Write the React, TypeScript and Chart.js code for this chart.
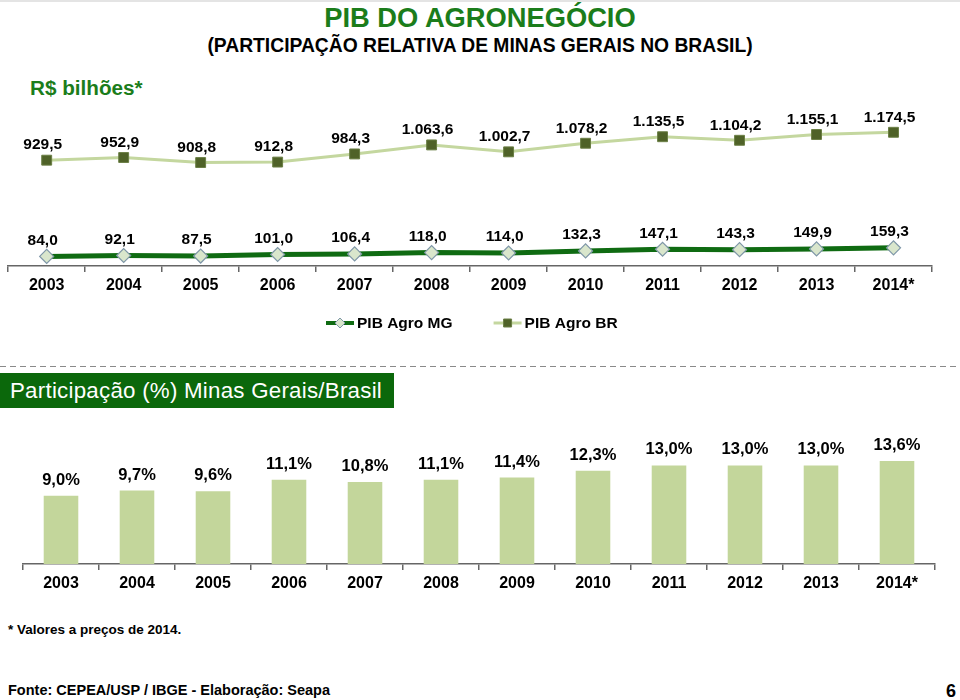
import React, { useEffect, useRef } from 'react';
import { Chart, registerables } from 'chart.js';

Chart.register(...registerables);

const FONT = "'Liberation Sans', Arial, Helvetica, sans-serif";

const years = ['2003', '2004', '2005', '2006', '2007', '2008', '2009', '2010', '2011', '2012', '2013', '2014*'];
const seriesNames = ['PIB Agro MG', 'PIB Agro BR'];
const pibAgroMG = [84.0, 92.1, 87.5, 101.0, 106.4, 118.0, 114.0, 132.3, 147.1, 143.3, 149.9, 159.3];
const pibAgroBR = [929.5, 952.9, 908.8, 912.8, 984.3, 1063.6, 1002.7, 1078.2, 1135.5, 1104.2, 1155.1, 1174.5];
const participacaoMG = [9.0, 9.7, 9.6, 11.1, 10.8, 11.1, 11.4, 12.3, 13.0, 13.0, 13.0, 13.6];

const AXIS_COLOR = '#666666';

function fmtBR(v: number): string {
  const [i, d] = v.toFixed(1).split('.');
  return i.replace(/\B(?=(\d{3})+(?!\d))/g, '.') + ',' + d;
}
function fmtPct(v: number): string {
  return v.toFixed(1).replace('.', ',') + '%';
}

function xScale() {
  return {
    offset: true,
    grid: {
      offset: true,
      drawOnChartArea: false,
      drawTicks: true,
      tickLength: 6,
      color: AXIS_COLOR,
      lineWidth: 1.5,
    },
    border: { display: true, color: AXIS_COLOR, width: 1.5 },
    ticks: {
      color: '#000',
      font: { family: FONT, size: 16, weight: 'bold' as const },
      padding: 4,
      maxRotation: 0,
      autoSkip: false,
    },
  };
}

function LineChart() {
  const ref = useRef<HTMLCanvasElement>(null);
  useEffect(() => {
    if (!ref.current) return;
    const labelPlugin = {
      id: 'lineLabels',
      afterDatasetsDraw(chart: any) {
        const ctx = chart.ctx;
        ctx.save();
        ctx.font = `bold 15.5px ${FONT}`;
        ctx.fillStyle = '#000';
        ctx.textAlign = 'center';
        ctx.textBaseline = 'middle';
        chart.data.datasets.forEach((ds: any, i: number) => {
          const meta = chart.getDatasetMeta(i);
          meta.data.forEach((pt: any, j: number) => {
            const off = i === 0 ? 16 : 15;
            ctx.fillText(fmtBR(ds.data[j]), pt.x - 4, pt.y - off);
          });
        });
        ctx.restore();
      },
    };
    const legendPlugin = {
      id: 'lineLegend',
      afterDraw(chart: any) {
        const ctx = chart.ctx;
        ctx.save();
        ctx.font = `bold 15.5px ${FONT}`;
        ctx.textBaseline = 'middle';
        ctx.textAlign = 'left';
        let x = 326;
        const y = 223;
        chart.data.datasets.forEach((ds: any, i: number) => {
          ctx.strokeStyle = ds.borderColor;
          ctx.lineWidth = i === 0 ? 4 : 3;
          ctx.beginPath();
          ctx.moveTo(x, y);
          ctx.lineTo(x + 28, y);
          ctx.stroke();
          const cx = x + 14;
          ctx.fillStyle = ds.pointBackgroundColor;
          ctx.strokeStyle = ds.pointBorderColor;
          ctx.lineWidth = 1;
          ctx.beginPath();
          if (ds.pointStyle === 'rectRot') {
            const r = 5;
            ctx.moveTo(cx, y - r);
            ctx.lineTo(cx + r, y);
            ctx.lineTo(cx, y + r);
            ctx.lineTo(cx - r, y);
            ctx.closePath();
          } else {
            ctx.rect(cx - 4, y - 4, 8, 8);
          }
          ctx.fill();
          ctx.stroke();
          ctx.fillStyle = '#000';
          ctx.fillText(ds.label, x + 31, y + 1);
          x += 31 + ctx.measureText(ds.label).width + 41;
        });
        ctx.restore();
      },
    };
    const chart = new Chart(ref.current, {
      type: 'line',
      data: {
        labels: years,
        datasets: [
          {
            label: seriesNames[0],
            data: pibAgroMG,
            borderColor: '#0f6b12',
            borderWidth: 5,
            pointStyle: 'rectRot',
            pointRadius: 7,
            pointBackgroundColor: '#d9e6cc',
            pointBorderColor: '#7f97a8',
            pointBorderWidth: 1.2,
            tension: 0,
            clip: false,
          } as any,
          {
            label: seriesNames[1],
            data: pibAgroBR,
            borderColor: '#c4d79f',
            borderWidth: 3,
            pointStyle: 'rect',
            pointRadius: 7,
            pointBackgroundColor: '#4f6228',
            pointBorderColor: '#6b7f45',
            pointBorderWidth: 1,
            tension: 0,
            clip: false,
          } as any,
        ],
      },
      options: {
        animation: false,
        responsive: false,
        layout: { padding: { top: 18, left: 8, right: 28, bottom: 45.8 } },
        plugins: { legend: { display: false }, tooltip: { enabled: false } },
        scales: {
          x: xScale() as any,
          y: { display: false, min: 0, max: 1300 },
        },
      },
      plugins: [labelPlugin, legendPlugin],
    });
    return () => chart.destroy();
  }, []);
  return (
    <canvas
      ref={ref}
      width={960}
      height={245}
      style={{ position: 'absolute', left: 0, top: 100, width: 960, height: 245, display: 'block' }}
    />
  );
}

function BarChart() {
  const ref = useRef<HTMLCanvasElement>(null);
  useEffect(() => {
    if (!ref.current) return;
    const labelPlugin = {
      id: 'barLabels',
      afterDatasetsDraw(chart: any) {
        const ctx = chart.ctx;
        ctx.save();
        ctx.font = `bold 16.5px ${FONT}`;
        ctx.fillStyle = '#000';
        ctx.textAlign = 'center';
        ctx.textBaseline = 'middle';
        const ds = chart.data.datasets[0];
        chart.getDatasetMeta(0).data.forEach((bar: any, j: number) => {
          ctx.fillText(fmtPct(ds.data[j]), bar.x, bar.y - 15.5);
        });
        ctx.restore();
      },
    };
    const chart = new Chart(ref.current, {
      type: 'bar',
      data: {
        labels: years,
        datasets: [
          {
            label: 'Participação (%) Minas Gerais/Brasil',
            data: participacaoMG,
            backgroundColor: '#c3d69b',
            borderWidth: 0,
            barPercentage: 0.455,
            categoryPercentage: 1,
          },
        ],
      },
      options: {
        animation: false,
        responsive: false,
        layout: { padding: { top: 22.7, left: 23, right: 25, bottom: 12.8 } },
        plugins: { legend: { display: false }, tooltip: { enabled: false } },
        scales: {
          x: xScale() as any,
          y: { display: false, min: 0, max: 16 },
        },
      },
      plugins: [labelPlugin],
    });
    return () => chart.destroy();
  }, []);
  return (
    <canvas
      ref={ref}
      width={960}
      height={190}
      style={{ position: 'absolute', left: 0, top: 420, width: 960, height: 190, display: 'block' }}
    />
  );
}

export default function App() {
  const green = '#1b7d1b';
  return (
    <div
      style={{
        position: 'absolute',
        left: 0,
        top: 0,
        width: 960,
        height: 700,
        background: '#fff',
        overflow: 'hidden',
        fontFamily: FONT,
      }}
    >
      <div style={{ position: 'absolute', left: 0, top: 0, width: 960, height: 2, background: '#e4e4e4' }} />
      <div
        style={{
          position: 'absolute', left: 0, top: 4, width: 960, textAlign: 'center',
          fontSize: 27.3, fontWeight: 'bold', lineHeight: 1, color: green, whiteSpace: 'nowrap',
        }}
      >
        PIB DO AGRONEGÓCIO
      </div>
      <div
        style={{
          position: 'absolute', left: 0, top: 35.7, width: 960, textAlign: 'center',
          fontSize: 19.3, fontWeight: 'bold', lineHeight: 1, color: '#000', whiteSpace: 'nowrap',
        }}
      >
        (PARTICIPAÇÃO RELATIVA DE MINAS GERAIS NO BRASIL)
      </div>
      <div
        style={{
          position: 'absolute', left: 30, top: 77.5, fontSize: 20.7, fontWeight: 'bold',
          lineHeight: 1, color: green, whiteSpace: 'nowrap',
        }}
      >
        R$ bilhões*
      </div>

      <LineChart />

      <div
        style={{
          position: 'absolute', left: 0, top: 366, width: 960, height: 1,
          backgroundImage: 'repeating-linear-gradient(to right, #8a8a8a 0px, #8a8a8a 6px, transparent 6px, transparent 10px)',
        }}
      />
      <div style={{ position: 'absolute', left: 0, top: 373, width: 394, height: 35, background: '#0b680b' }}>
        <div
          style={{
            position: 'absolute', left: 10, top: 7.4, fontSize: 22.3, lineHeight: 1, color: '#fff',
            letterSpacing: 0.25, whiteSpace: 'nowrap',
          }}
        >
          Participação (%) Minas Gerais/Brasil
        </div>
      </div>

      <BarChart />

      <div
        style={{
          position: 'absolute', left: 8, top: 623.3, fontSize: 13.5, fontWeight: 'bold',
          lineHeight: 1, color: '#000', whiteSpace: 'nowrap',
        }}
      >
        * Valores a preços de 2014.
      </div>
      <div
        style={{
          position: 'absolute', left: 8, top: 682.7, fontSize: 14.5, fontWeight: 'bold',
          lineHeight: 1, color: '#000', whiteSpace: 'nowrap',
        }}
      >
        Fonte: CEPEA/USP / IBGE - Elaboração: Seapa
      </div>
      <div
        style={{
          position: 'absolute', left: 946, top: 681.8, fontSize: 18, fontWeight: 'bold',
          lineHeight: 1, color: '#000', whiteSpace: 'nowrap',
        }}
      >
        6
      </div>
    </div>
  );
}
